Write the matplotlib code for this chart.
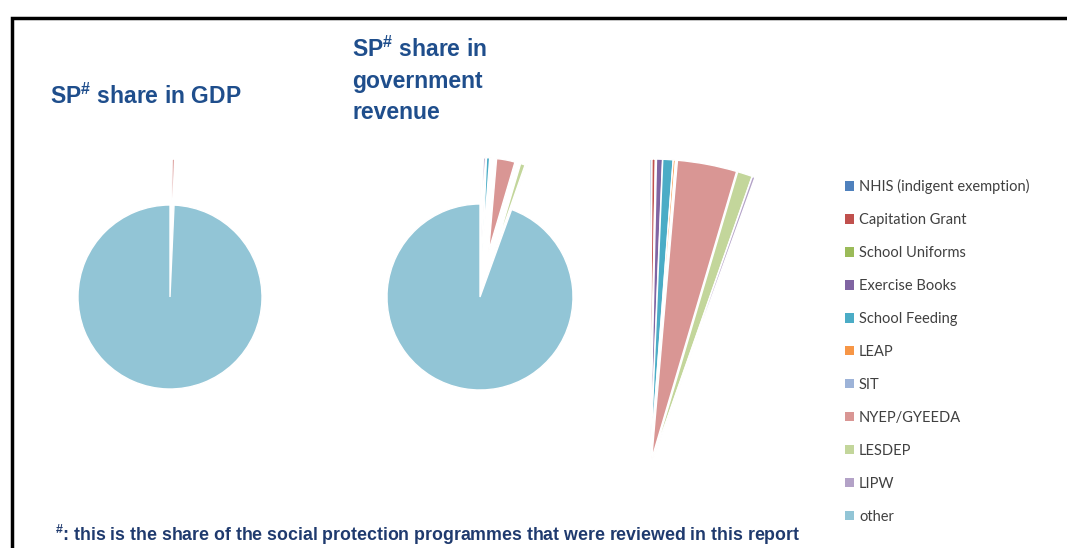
import matplotlib
matplotlib.use('Agg')
import matplotlib.pyplot as plt
from matplotlib.patches import Rectangle, Patch

# programmes and their shares (% of government revenue / % of GDP)
programmes = ['NHIS (indigent exemption)', 'Capitation Grant', 'School Uniforms',
              'Exercise Books', 'School Feeding', 'LEAP', 'SIT', 'NYEP/GYEEDA',
              'LESDEP', 'LIPW', 'other']
rev_share = [0.10, 0.18, 0.05, 0.32, 0.55, 0.12, 0.05, 3.20, 0.80, 0.15]
rev_share = rev_share + [100 - sum(rev_share)]
gdp_share = [0.014, 0.02, 0.007, 0.04, 0.075, 0.017, 0.007, 0.42, 0.08, 0.02]
gdp_share = gdp_share + [100 - sum(gdp_share)]

colors = ['#4F81BD', '#C0504D', '#9BBB59', '#8064A2', '#4BACC6', '#F79646',
          '#9DB3D8', '#D99694', '#C3D69B', '#B3A2C7', '#92C5D6']

title_color = '#1F4E8C'
plt.rcParams['mathtext.fontset'] = 'custom'
plt.rcParams['mathtext.rm'] = 'Liberation Sans:bold'
plt.rcParams['mathtext.bf'] = 'Liberation Sans:bold'
plt.rcParams['mathtext.it'] = 'Liberation Sans:bold'
head_font = ['Liberation Sans Narrow', 'Liberation Sans']

W, H = 1067, 548
fig = plt.figure(figsize=(W / 100, H / 100), dpi=100)
ax = fig.add_axes([0, 0, 1, 1])


def py(y):
    return H - y


small = len(programmes) - 1
edge = dict(edgecolor='white', linewidth=1)

# share in GDP (programme slices pulled out by half a radius)
r1 = 92
ax.pie(gdp_share, colors=colors, startangle=90, counterclock=False,
       center=(170, py(297)), radius=r1, explode=[0.5 * r1] * small + [0],
       wedgeprops=edge, frame=True)

# share in government revenue
r2 = 93
ax.pie(rev_share, colors=colors, startangle=90, counterclock=False,
       center=(480, py(297)), radius=r2, explode=[0.5 * r2] * small + [0],
       wedgeprops=edge, frame=True)

# enlarged view of the programme slices
r3 = 300
zoom, _ = ax.pie(rev_share, colors=colors, startangle=90, counterclock=False,
                 center=(650, py(468)), radius=r3, explode=[0.03 * r3] * len(rev_share),
                 wedgeprops=dict(edgecolor='white', linewidth=1.0), frame=True)
zoom[-1].set_visible(False)

ax.set_xlim(0, W)
ax.set_ylim(0, H)
ax.set_aspect('equal')
ax.axis('off')

# border
ax.add_patch(Rectangle((12, -20), W, H - 18 + 20, fill=False, edgecolor='black',
                       linewidth=2.5, clip_on=False))

ax.text(50, py(96), r'SP$^{\#}$ share in GDP', color=title_color, fontsize=16.5,
        fontweight='bold', family=head_font, va='center', ha='left')
ax.text(352, py(80), 'SP$^{\\#}$ share in\ngovernment\nrevenue', color=title_color,
        fontsize=16.5, fontweight='bold', family=head_font, va='center', ha='left',
        linespacing=1.45)
ax.text(55, py(535), r'$^{\#}$: this is the share of the social protection programmes '
        'that were reviewed in this report', color='#1F3A6E', fontsize=12.8,
        fontweight='bold', family=head_font, va='center', ha='left')

handles = [Patch(facecolor=c, edgecolor='none') for c in colors]
ax.legend(handles, programmes, loc='upper left', bbox_to_anchor=(832 / W, 1 - 166 / H),
          bbox_transform=fig.transFigure, frameon=False,
          prop={'family': 'Lato', 'size': 10.5}, labelspacing=1.3, handlelength=0.6,
          handleheight=0.6, handletextpad=0.35, labelcolor='#404040')

fig.savefig('out.png', dpi=100)
